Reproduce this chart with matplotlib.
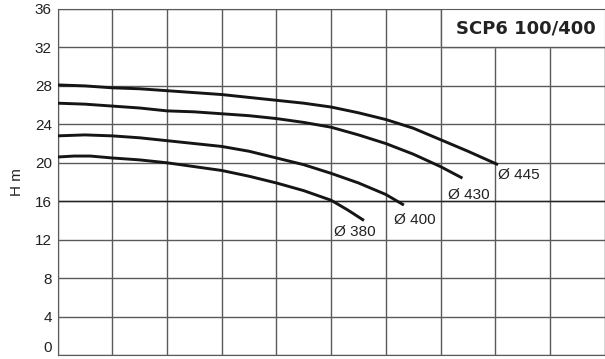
import matplotlib.pyplot as plt

# Q axis in grid cells (no labels in the original), H in m
q_445 = [0, 0.5, 1, 1.5, 2, 2.5, 3, 3.5, 4, 4.5, 5, 5.5, 6, 6.5, 7, 7.5, 8.05]
h_445 = [28.1, 28.0, 27.8, 27.7, 27.5, 27.3, 27.1, 26.8, 26.5, 26.2, 25.8, 25.2, 24.5, 23.6, 22.4, 21.2, 19.8]

q_430 = [0, 0.5, 1, 1.5, 2, 2.5, 3, 3.5, 4, 4.5, 5, 5.5, 6, 6.5, 7, 7.4]
h_430 = [26.2, 26.1, 25.9, 25.7, 25.4, 25.3, 25.1, 24.9, 24.6, 24.2, 23.7, 22.9, 22.0, 20.9, 19.6, 18.4]

q_400 = [0, 0.5, 1, 1.5, 2, 2.5, 3, 3.5, 4, 4.5, 5, 5.5, 6, 6.33]
h_400 = [22.8, 22.9, 22.8, 22.6, 22.3, 22.0, 21.7, 21.2, 20.5, 19.8, 18.9, 17.9, 16.7, 15.6]

q_380 = [0, 0.3, 0.6, 1, 1.5, 2, 2.5, 3, 3.5, 4, 4.5, 5, 5.3, 5.6]
h_380 = [20.6, 20.7, 20.7, 20.5, 20.3, 20.0, 19.6, 19.2, 18.6, 17.9, 17.1, 16.1, 15.1, 14.0]

labels = ['Ø 445', 'Ø 430', 'Ø 400', 'Ø 380']
label_pos = [(8.05, 18.7), (7.14, 16.6), (6.14, 14.0), (5.06, 12.8)]
yticks = list(range(0, 37, 4))
title = 'SCP6 100/400'

plt.rcParams['font.family'] = ['Liberation Sans', 'DejaVu Sans']

fig = plt.figure(figsize=(6.05, 3.59), dpi=100)
ax = fig.add_axes([57.5 / 605, 4 / 359, 550 / 605 * 0.995, 346 / 359])

ax.set_xlim(0, 10)
ax.set_ylim(0, 36)
ax.set_xticks(range(0, 11))
ax.set_yticks(yticks)
ax.set_xticklabels([])
ax.tick_params(length=0, pad=4, labelsize=11, labelcolor='#222222')
ax.get_yticklabels()[0].set_verticalalignment('bottom')
ax.grid(True, color='#5a5a5a', linewidth=1)
ax.set_axisbelow(True)
for s in ax.spines.values():
    s.set_color('#5a5a5a')
ax.axhline(16, color='#222222', linewidth=1, zorder=1)

for q, h in [(q_445, h_445), (q_430, h_430), (q_400, h_400), (q_380, h_380)]:
    ax.plot(q, h, color='#151515', linewidth=2.1, solid_capstyle='butt', zorder=3)

for lab, (x, y) in zip(labels, label_pos):
    ax.text(x, y, lab, fontsize=11, ha='left', va='center', color='#222222')

# title box over the top right cells
ax.fill_between([7, 10], 32, 36, color='white', zorder=2)
ax.plot([7, 7, 10], [36, 32, 32], color='#5a5a5a', linewidth=1, zorder=2)
ax.text(8.55, 34, title, fontsize=13, fontweight='bold', family='DejaVu Sans',
        ha='center', va='center', color='#222222', zorder=4)

ax.set_ylabel('H m', fontsize=11, labelpad=8, color='#222222')

fig.savefig('out.png', dpi=100)
